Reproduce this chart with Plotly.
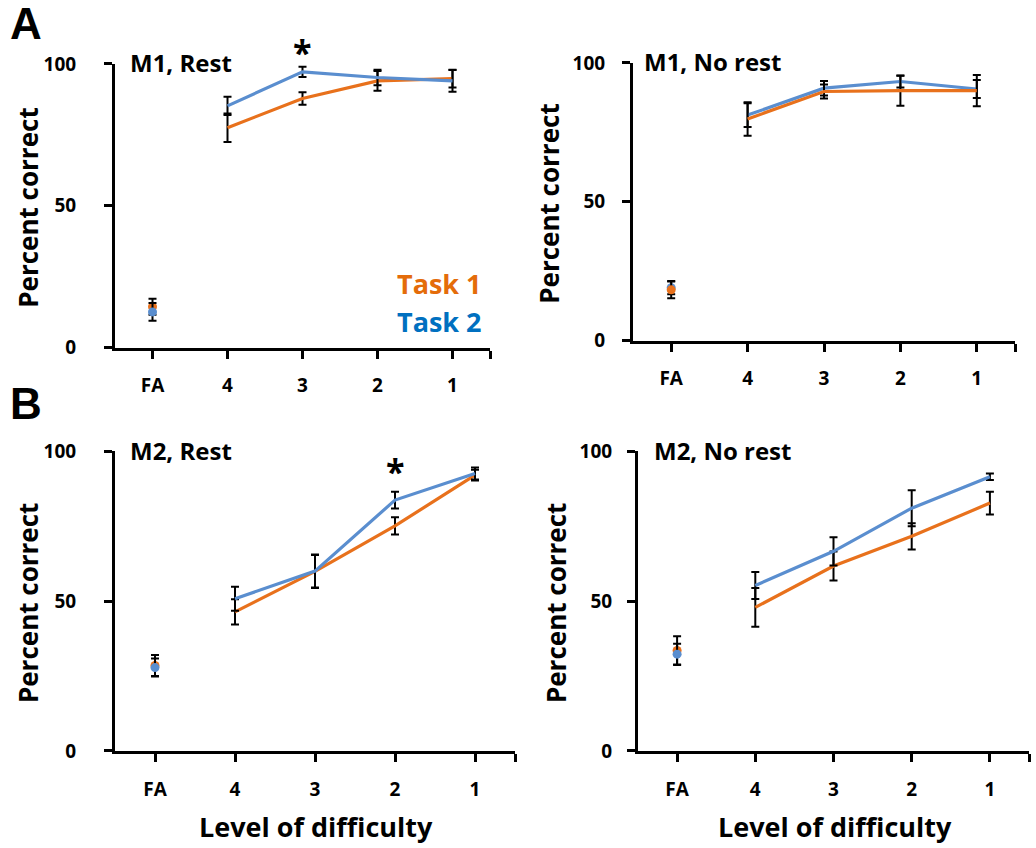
import plotly.graph_objects as go

W, H = 1036, 848
FONT = "Open Sans"
ORANGE = "#E8711C"
BLUE = "#5A8ECF"
ORANGE_TXT = "#E46C0A"
BLUE_TXT = "#0070C0"

categories = ["FA", "4", "3", "2", "1"]

# M1, Rest
m1r_t1 = [14.4, 77.5, 87.8, 94.0, 94.8]
m1r_t1_err = [2.8, 5.0, 2.2, 3.5, 3.1]
m1r_t2 = [12.6, 85.2, 97.2, 95.2, 94.0]
m1r_t2_err = [3.1, 3.2, 1.8, 2.7, 3.8]
# M1, No rest
m1n_t1 = [18.3, 79.8, 89.7, 90.0, 90.0]
m1n_t1_err = [3.0, 6.0, 2.5, 5.4, 5.6]
m1n_t2 = [19.1, 81.2, 90.9, 93.3, 90.6]
m1n_t2_err = [2.4, 4.3, 2.6, 2.2, 3.2]
# M2, Rest
m2r_t1 = [28.5, 46.4, 59.9, 75.1, 92.0]
m2r_t1_err = [3.5, 4.2, 5.5, 2.9, 1.8]
m2r_t2 = [27.8, 50.8, 60.0, 83.7, 92.6]
m2r_t2_err = [3.0, 4.0, 5.5, 2.8, 2.0]
# M2, No rest
m2n_t1 = [33.5, 47.9, 61.7, 71.6, 82.7]
m2n_t1_err = [4.8, 6.5, 4.8, 4.4, 3.8]
m2n_t2 = [32.3, 55.2, 66.6, 81.0, 91.5]
m2n_t2_err = [3.5, 4.5, 4.7, 6.0, 1.1]

panels = [
    dict(title="M1, Rest", t1=m1r_t1, e1=m1r_t1_err, t2=m1r_t2, e2=m1r_t2_err,
         xd=(115, 490), yd=(63, 348), orange_top=False, star=2, stary=105.6,
         ytitle_x=28, ystand=24, title_x=128),
    dict(title="M1, No rest", t1=m1n_t1, e1=m1n_t1_err, t2=m1n_t2, e2=m1n_t2_err,
         xd=(633, 1015), yd=(62, 341), orange_top=True, star=None, stary=None,
         ytitle_x=549, ystand=13, title_x=642),
    dict(title="M2, Rest", t1=m2r_t1, e1=m2r_t1_err, t2=m2r_t2, e2=m2r_t2_err,
         xd=(115, 515), yd=(452, 753), orange_top=False, star=3, stary=94.8,
         ytitle_x=28, ystand=24, title_x=128),
    dict(title="M2, No rest", t1=m2n_t1, e1=m2n_t1_err, t2=m2n_t2, e2=m2n_t2_err,
         xd=(638, 1029), yd=(452, 753), orange_top=False, star=None, stary=None,
         ytitle_x=556, ystand=11, title_x=652),
]

xpos = list(range(len(categories)))

fig = go.Figure()
annotations = []
layout = {}


def px_x(x):
    return x / W


def px_y(y):
    # empirical correction for the vertical placement observed in the render
    yc = (y - 11.9) / 0.9735
    return 1 - yc / H


for i, p in enumerate(panels):
    n = "" if i == 0 else str(i + 1)
    xa, ya = "x" + n, "y" + n
    series = [(p["t1"], p["e1"], ORANGE, "Task 1"), (p["t2"], p["e2"], BLUE, "Task 2")]
    if p["orange_top"]:
        series = series[::-1]
    for vals, errs, col, name in series:
        fig.add_trace(go.Scatter(
            x=xpos[1:], y=vals[1:], mode="lines", name=name, showlegend=False,
            line=dict(color=col, width=3.2),
            error_y=dict(type="data", array=errs[1:], visible=True, color="black",
                         thickness=2, width=4),
            xaxis=xa, yaxis=ya, cliponaxis=False))
    for vals, errs, col, name in series:
        fig.add_trace(go.Scatter(
            x=xpos[:1], y=vals[:1], mode="markers", name=name, showlegend=False,
            marker=dict(color=col, size=9),
            error_y=dict(type="data", array=errs[:1], visible=True, color="black",
                         thickness=2, width=4),
            xaxis=xa, yaxis=ya, cliponaxis=False))

    layout["xaxis" + n] = dict(
        domain=[px_x(p["xd"][0]), px_x(p["xd"][1])], anchor=ya,
        range=[-0.5, 4.5], tickvals=xpos + [4.5], ticktext=categories + [""],
        showline=True, linecolor="black", linewidth=3, ticks="outside",
        ticklen=8, tickwidth=3, tickcolor="black", showgrid=False, zeroline=False,
        tickfont=dict(family=FONT, size=19, color="black", weight="bold"),
        ticklabelstandoff=11, fixedrange=True)
    layout["yaxis" + n] = dict(
        domain=[px_y(p["yd"][1]), px_y(p["yd"][0])], anchor=xa,
        range=[0, 100], tickvals=[0, 50, 100],
        showline=True, linecolor="black", linewidth=3, ticks="outside",
        ticklen=8, tickwidth=3, tickcolor="black", showgrid=False, zeroline=False,
        tickfont=dict(family=FONT, size=19, color="black", weight="bold"),
        ticklabelstandoff=p["ystand"], fixedrange=True)

    annotations.append(dict(
        text=p["title"], xref="paper", yref="paper",
        x=px_x(p["title_x"]), y=px_y(p["yd"][0] - 1), xanchor="left", yanchor="middle",
        showarrow=False, font=dict(family=FONT, size=24, color="black", weight="bold")))
    annotations.append(dict(
        text="Percent correct", xref="paper", yref="paper", textangle=-90,
        x=px_x(p["ytitle_x"]), y=px_y((p["yd"][0] + p["yd"][1]) / 2 + 2),
        xanchor="center", yanchor="middle", showarrow=False,
        font=dict(family=FONT, size=26, color="black", weight="bold")))
    if p["star"] is not None:
        annotations.append(dict(
            text="*", xref=xa, yref=ya + " domain", x=p["star"], y=p["stary"] / 100,
            xanchor="center", yanchor="middle", showarrow=False, yshift=-4,
            font=dict(family=FONT, size=34, color="black", weight="bold")))

for cx in (316, 835):
    annotations.append(dict(
        text="Level of difficulty", xref="paper", yref="paper",
        x=px_x(cx), y=px_y(829), xanchor="center", yanchor="middle", showarrow=False,
        font=dict(family=FONT, size=27, color="black", weight="bold")))

annotations.append(dict(text="Task 1", xref="paper", yref="paper", x=px_x(484), y=px_y(284),
                        xanchor="right", yanchor="middle", showarrow=False,
                        font=dict(family=FONT, size=27, color=ORANGE_TXT, weight="bold")))
annotations.append(dict(text="Task 2", xref="paper", yref="paper", x=px_x(484), y=px_y(322),
                        xanchor="right", yanchor="middle", showarrow=False,
                        font=dict(family=FONT, size=27, color=BLUE_TXT, weight="bold")))

annotations.append(dict(text="A", xref="paper", yref="paper", x=px_x(26), y=px_y(22),
                        xanchor="center", yanchor="middle", showarrow=False,
                        font=dict(family="Liberation Sans", size=44, color="black", weight="bold")))
annotations.append(dict(text="B", xref="paper", yref="paper", x=px_x(26), y=px_y(404),
                        xanchor="center", yanchor="middle", showarrow=False,
                        font=dict(family="Liberation Sans", size=44, color="black", weight="bold")))

fig.update_layout(
    width=W, height=H, margin=dict(l=0, r=0, t=0, b=0),
    paper_bgcolor="white", plot_bgcolor="white", showlegend=False,
    annotations=annotations, **layout)

fig.write_html("out.html", config={"displayModeBar": False})
